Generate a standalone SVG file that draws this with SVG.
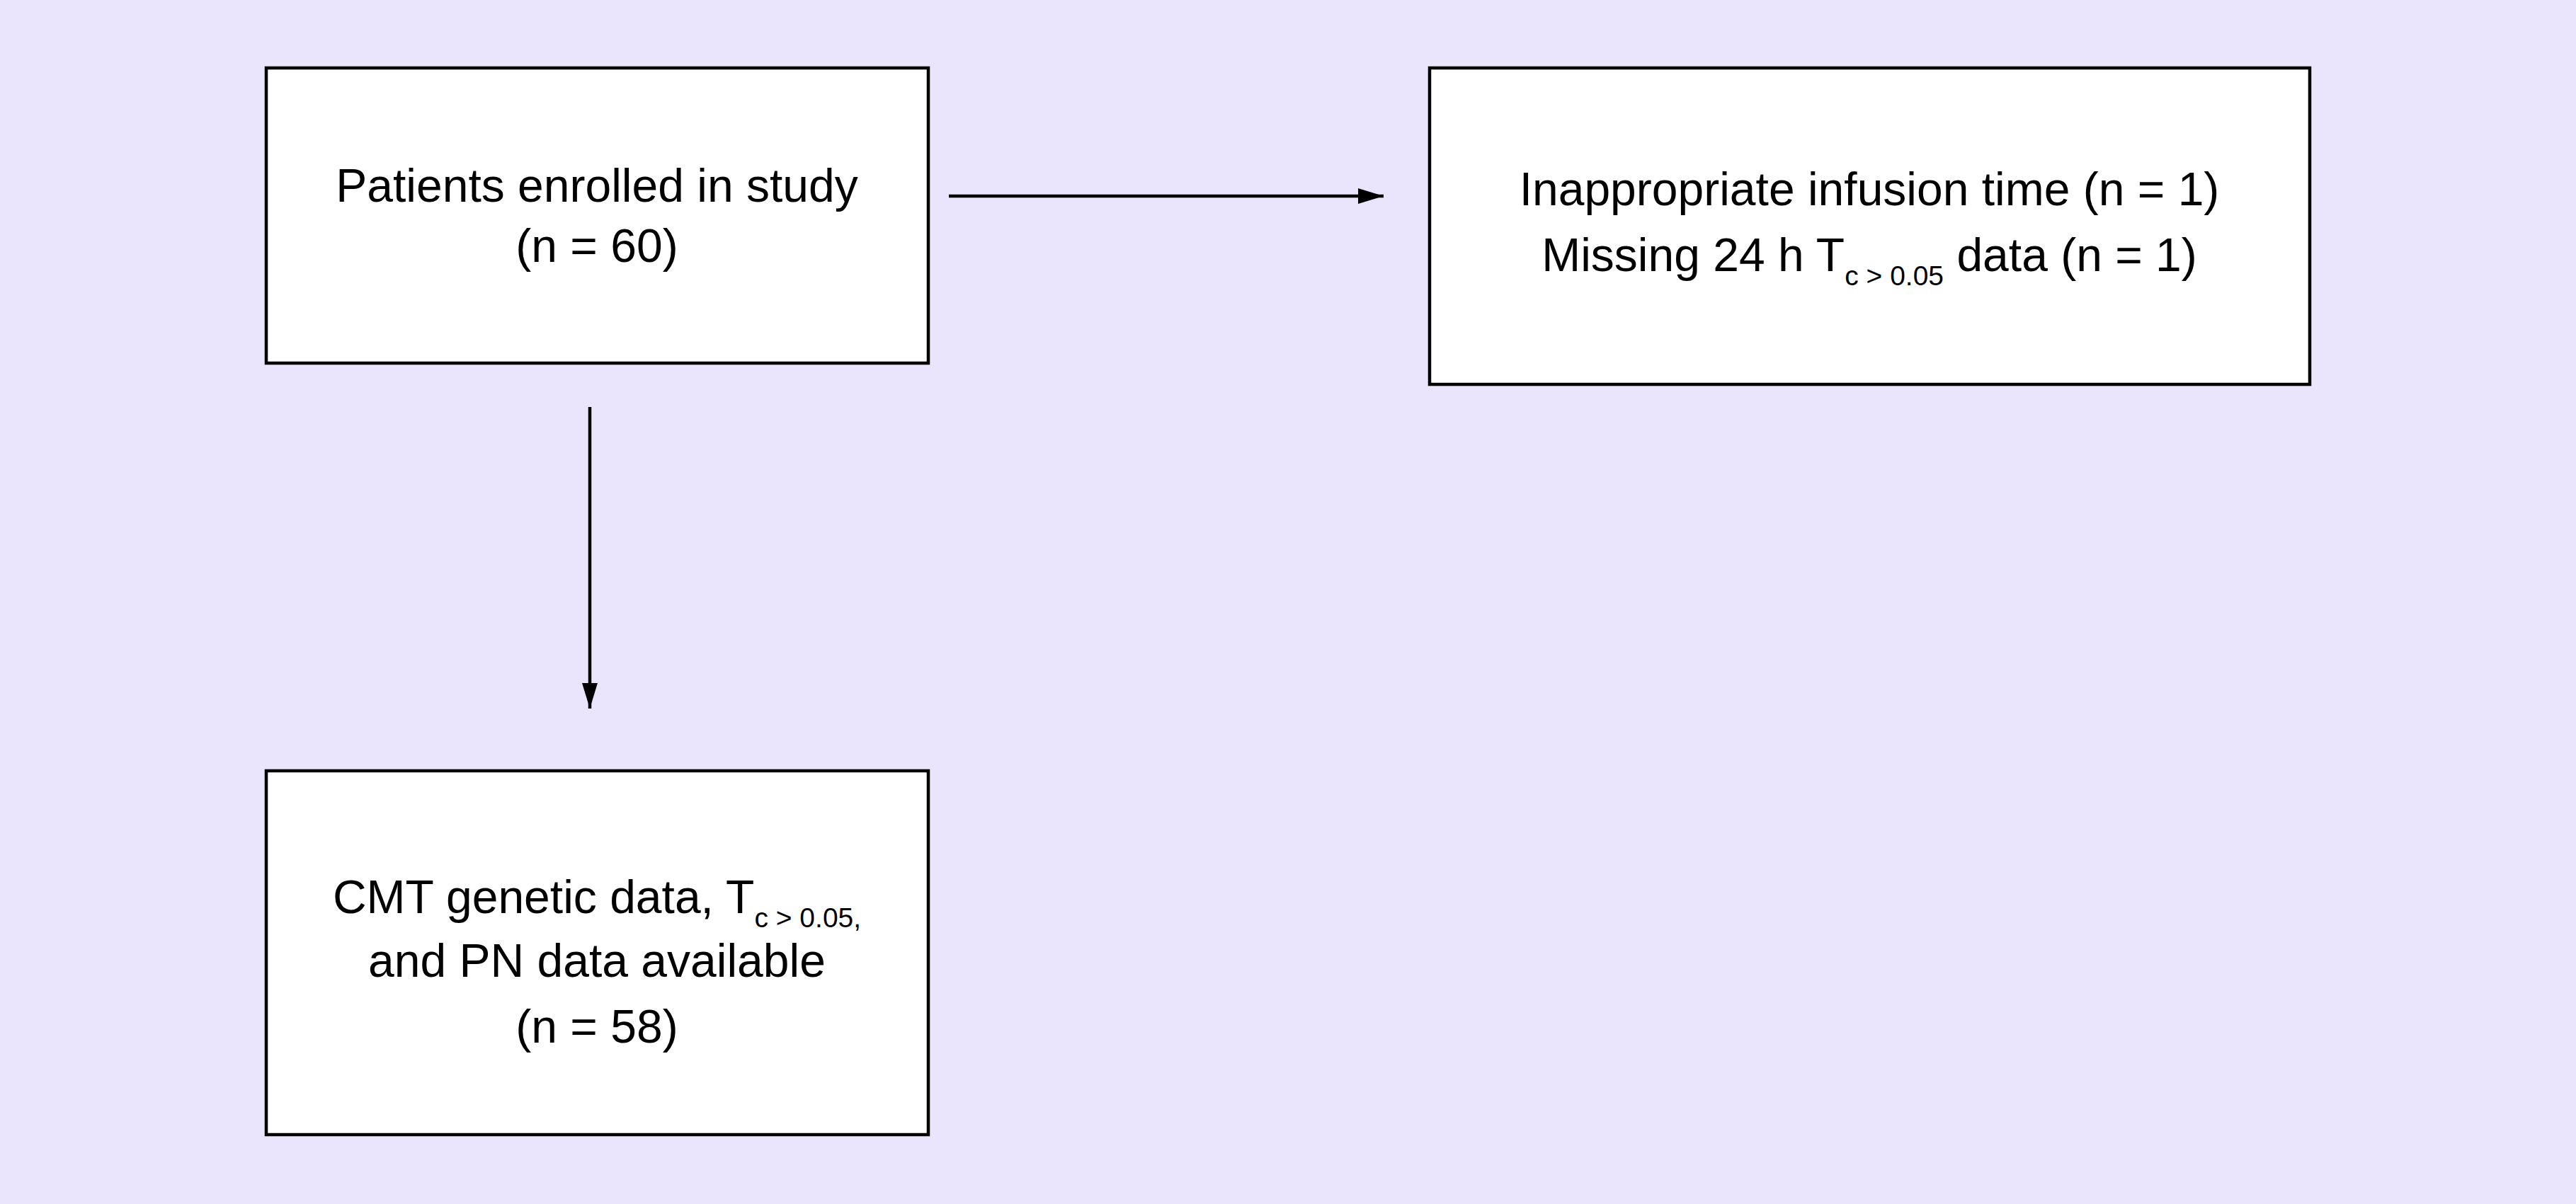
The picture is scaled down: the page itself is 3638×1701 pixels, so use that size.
<svg xmlns="http://www.w3.org/2000/svg" width="3638" height="1701" viewBox="0 0 3638 1701">
<style>
.box{fill:#fff;stroke:#000;stroke-width:4.5}
.t{font-family:"Liberation Sans",Arial,sans-serif;font-size:66px;fill:#000;text-anchor:middle}
.s{font-size:39px}
.c{stroke:#000;stroke-width:4.5;fill:none}
</style>
<defs>
<marker id="ah" markerUnits="userSpaceOnUse" markerWidth="38" markerHeight="26" refX="36" refY="11" orient="auto">
<path d="M0,0 L36,11 L0,22 Z" fill="#000"/>
</marker>
</defs>
<rect width="3638" height="1701" fill="#EAE5FC"/>
<g id="enrolled">
<rect class="box" x="376" y="96" width="935" height="417"/>
<text class="t" x="843" y="285">Patients enrolled in study</text>
<text class="t" x="843" y="370">(n = 60)</text>
</g>
<g id="excluded">
<rect class="box" x="2019" y="96" width="1243" height="447"/>
<text class="t" x="2640" y="290">Inappropriate infusion time (n = 1)</text>
<text class="t" x="2640" y="383">Missing 24 h T<tspan class="s" dy="20">c &gt; 0.05</tspan><tspan dy="-20"> data (n = 1)</tspan></text>
</g>
<g id="available">
<rect class="box" x="376" y="1089" width="935" height="514"/>
<text class="t" x="843" y="1290">CMT genetic data, T<tspan class="s" dy="20">c &gt; 0.05,</tspan></text>
<text class="t" x="843" y="1380">and PN data available</text>
<text class="t" x="843" y="1473">(n = 58)</text>
</g>
<g id="connectors">
<line class="c" x1="1340" y1="277" x2="1954" y2="277" marker-end="url(#ah)"/>
<line class="c" x1="833" y1="575" x2="833" y2="1001" marker-end="url(#ah)"/>
</g>
</svg>
